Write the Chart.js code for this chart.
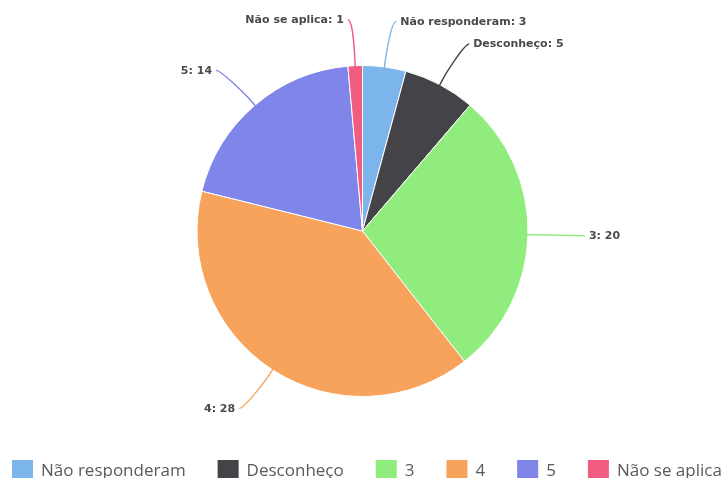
<!DOCTYPE html>
<html>
<head>
<meta charset="utf-8">
<script src="https://cdn.jsdelivr.net/npm/chart.js@4.4.1/dist/chart.umd.min.js"></script>
<style>
  html, body { margin: 0; padding: 0; background: #ffffff; overflow: hidden; }
  #wrap { position: relative; width: 725px; height: 478px; }
</style>
</head>
<body>
<div id="wrap"><canvas id="c" width="725" height="478"></canvas></div>
<script>
// Survey answers and their counts
const categories = ['Não responderam', 'Desconheço', '3', '4', '5', 'Não se aplica'];
const counts = [3, 5, 20, 28, 14, 1];
const sliceColors = ['#7cb5ec', '#434348', '#90ed7d', '#f7a35c', '#8085e9', '#f15c80'];

// Label anchors sit outside the rim, a bit further out horizontally
const LABEL_DIST_X = 52;
const LABEL_DIST_Y = 46;
const LABEL_FONT = 'bold 11px "DejaVu Sans"';
const LABEL_COLOR = '#4a4a4a';
const LEGEND_FONT = '17px "Open Sans"';
const LEGEND_COLOR = '#5a5a5a';

// Outside data labels joined to their slices by soft curved connectors
const pieLabels = {
  id: 'pieLabels',
  afterDatasetsDraw(chart) {
    const ctx = chart.ctx;
    const meta = chart.getDatasetMeta(0);
    ctx.save();
    ctx.font = LABEL_FONT;
    ctx.textBaseline = 'middle';
    meta.data.forEach((arc, i) => {
      const p = arc.getProps(['x', 'y', 'startAngle', 'endAngle', 'outerRadius'], true);
      const mid = (p.startAngle + p.endAngle) / 2;
      const ux = Math.cos(mid), uy = Math.sin(mid);
      const left = ux < 0;
      const dir = left ? -1 : 1;
      const ax = p.x + ux * (p.outerRadius + LABEL_DIST_X);
      const ay = p.y + uy * (p.outerRadius + LABEL_DIST_Y);
      const bx = p.x + ux * (p.outerRadius + 6);
      const by = p.y + uy * (p.outerRadius + 6);
      const ex = p.x + ux * (p.outerRadius - 1);
      const ey = p.y + uy * (p.outerRadius - 1);

      ctx.beginPath();
      ctx.moveTo(ax + dir * 5, ay);
      ctx.bezierCurveTo(ax, ay, 2 * bx - ex, 2 * by - ey, bx, by);
      ctx.lineTo(ex, ey);
      ctx.strokeStyle = sliceColors[i];
      ctx.lineWidth = 1.4;
      ctx.stroke();

      ctx.fillStyle = LABEL_COLOR;
      ctx.textAlign = left ? 'right' : 'left';
      ctx.fillText(categories[i] + ': ' + counts[i], ax + dir * 9, ay + 0.5);
    });
    ctx.restore();
  }
};

// Single-row legend along the bottom edge
const bottomLegend = {
  id: 'bottomLegend',
  afterDraw(chart) {
    const ctx = chart.ctx;
    ctx.save();
    ctx.font = LEGEND_FONT;
    ctx.textBaseline = 'alphabetic';
    ctx.textAlign = 'left';
    let x = 12;
    const boxTop = 460, boxW = 21, boxH = 18;
    categories.forEach((name, i) => {
      ctx.fillStyle = sliceColors[i];
      ctx.fillRect(x, boxTop, boxW, boxH);
      x += boxW + 8;
      ctx.fillStyle = LEGEND_COLOR;
      ctx.fillText(name, x, 476);
      x += ctx.measureText(name).width + 32;
    });
    ctx.restore();
  }
};

new Chart(document.getElementById('c'), {
  type: 'pie',
  data: {
    labels: categories,
    datasets: [{
      data: counts,
      backgroundColor: sliceColors,
      borderColor: '#ffffff',
      borderWidth: 1
    }]
  },
  options: {
    responsive: false,
    animation: false,
    layout: { padding: { top: 65, bottom: 81, left: 0, right: 0 } },
    plugins: {
      legend: { display: false },
      tooltip: { enabled: false }
    }
  },
  plugins: [pieLabels, bottomLegend]
});
</script>
</body>
</html>
